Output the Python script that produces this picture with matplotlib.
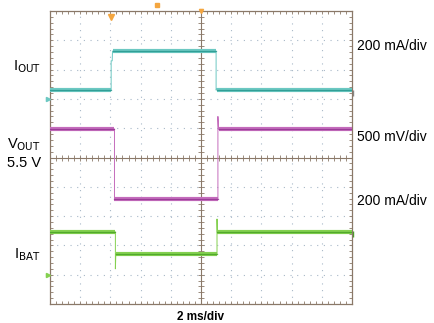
import numpy as np
import matplotlib.pyplot as plt

# time in ms (2 ms/div, 10 div), levels in screen divisions (0 = centre)
t_iout = [0, 4.05, 4.05, 4.12, 4.14, 11.0, 11.0, 11.05, 11.08, 20]
y_iout = [2.30, 2.30, 3.30, 3.30, 3.63, 3.63, 2.30, 2.35, 2.30, 2.30]

t_vout = [0, 4.27, 4.27, 11.12, 11.12, 11.16, 20]
y_vout = [0.97, 0.97, -1.42, -1.42, 1.40, 0.97, 0.97]

t_ibat = [0, 4.33, 4.33, 4.36, 4.38, 11.06, 11.06, 11.08, 20]
y_ibat = [-2.54, -2.54, -3.80, -3.29, -3.29, -3.29, -2.10, -2.54, -2.54]

left_labels = [("I$_{\\mathrm{OUT}}$", 3.1), ("V$_{\\mathrm{OUT}}$", 0.45),
               ("5.5 V", -0.2), ("I$_{\\mathrm{BAT}}$", -3.3)]
right_labels = [("200 mA/div", 3.8), ("500 mV/div", 0.7), ("200 mA/div", -1.5)]

teal, teal_dk = '#6cc8c2', '#23958c'
mag, mag_dk = '#c46cbc', '#903290'
grn, grn_dk = '#84d050', '#45a024'
frame = '#8a7868'
dots = '#a8b8c8'

fig = plt.figure(figsize=(4.35, 3.23), dpi=100)
ax = fig.add_axes([50 / 435, 19 / 323, 302 / 435, 293 / 323])
ax.set_xlim(0, 20)
ax.set_ylim(-5, 5)

# dotted graticule
for gx in np.arange(2, 20, 2):
    if gx != 10:
        ax.axvline(gx, color=dots, lw=0.8, ls=(0, (1, 5)), zorder=1)
for gy in np.arange(-4, 5, 1):
    if gy != 0:
        ax.axhline(gy, color=dots, lw=0.8, ls=(0, (1, 5)), zorder=1)
ax.axvline(10, color=frame, lw=0.8, zorder=1)
ax.axhline(0, color=frame, lw=0.8, zorder=1)
mx = np.arange(0, 20.01, 0.4)
my = np.arange(-5, 5.01, 0.2)
ax.plot(mx, np.zeros_like(mx), '|', color=frame, ms=4, mew=0.6, zorder=1)
ax.plot(np.full_like(my, 10), my, '_', color=frame, ms=4, mew=0.6, zorder=1)

ax.set_xticks(np.arange(0, 20.01, 0.4))
ax.set_yticks(np.arange(-5, 5.01, 0.2))
ax.tick_params(direction='in', length=2.5, width=0.6, color=frame,
               top=True, right=True, labelleft=False, labelbottom=False)
for s in ax.spines.values():
    s.set_color(frame)
    s.set_linewidth(0.9)

# traces: thin edges, wide noisy band on the flat parts
for t, y, c1, c2 in [(t_iout, y_iout, teal, teal_dk),
                     (t_vout, y_vout, mag, mag_dk),
                     (t_ibat, y_ibat, grn, grn_dk)]:
    ax.plot(t, y, color=c1, lw=0.7, zorder=3)
    for i in range(len(t) - 1):
        if t[i + 1] - t[i] > 0.3:
            seg_t = [t[i], t[i + 1]]
            seg_y = [y[i], y[i + 1]]
            ax.plot(seg_t, seg_y, color=c1, lw=3.0, solid_capstyle='butt', zorder=3)
            ax.plot(seg_t, seg_y, color=c2, lw=0.9, alpha=0.8, zorder=4)

# channel ground markers and trigger markers
ax.plot([-0.1], [2.0], marker='>', color=teal, ms=3, clip_on=False, zorder=5)
ax.plot([-0.1], [-4.0], marker='>', color=grn, ms=3, clip_on=False, zorder=5)
ax.plot([20.05], [-2.6], marker='|', color=grn_dk, ms=5, clip_on=False)
ax.plot([20.05], [2.2], marker='|', color='#888888', ms=5, clip_on=False)
ax.plot([4.05], [4.8], marker='v', color='#f4a640', ms=4, clip_on=False, zorder=5)
ax.plot([7.1], [5.2], marker='s', color='#f4a640', ms=3, clip_on=False, zorder=5)
ax.plot([10], [5.0], marker='v', color='#f4a640', ms=3, clip_on=False, zorder=5)

for txt, yv in left_labels:
    ax.text(-0.6, yv, txt, ha='right', va='center', fontsize=10.5,
            family='Liberation Sans')
for txt, yv in right_labels:
    ax.text(20.3, yv, txt, ha='left', va='center', fontsize=10,
            family='Liberation Sans')
ax.text(10, -5.45, '2 ms/div', ha='center', va='center', fontsize=8.5,
        fontweight='bold', family='Liberation Sans')

fig.savefig('out.png', dpi=100)
